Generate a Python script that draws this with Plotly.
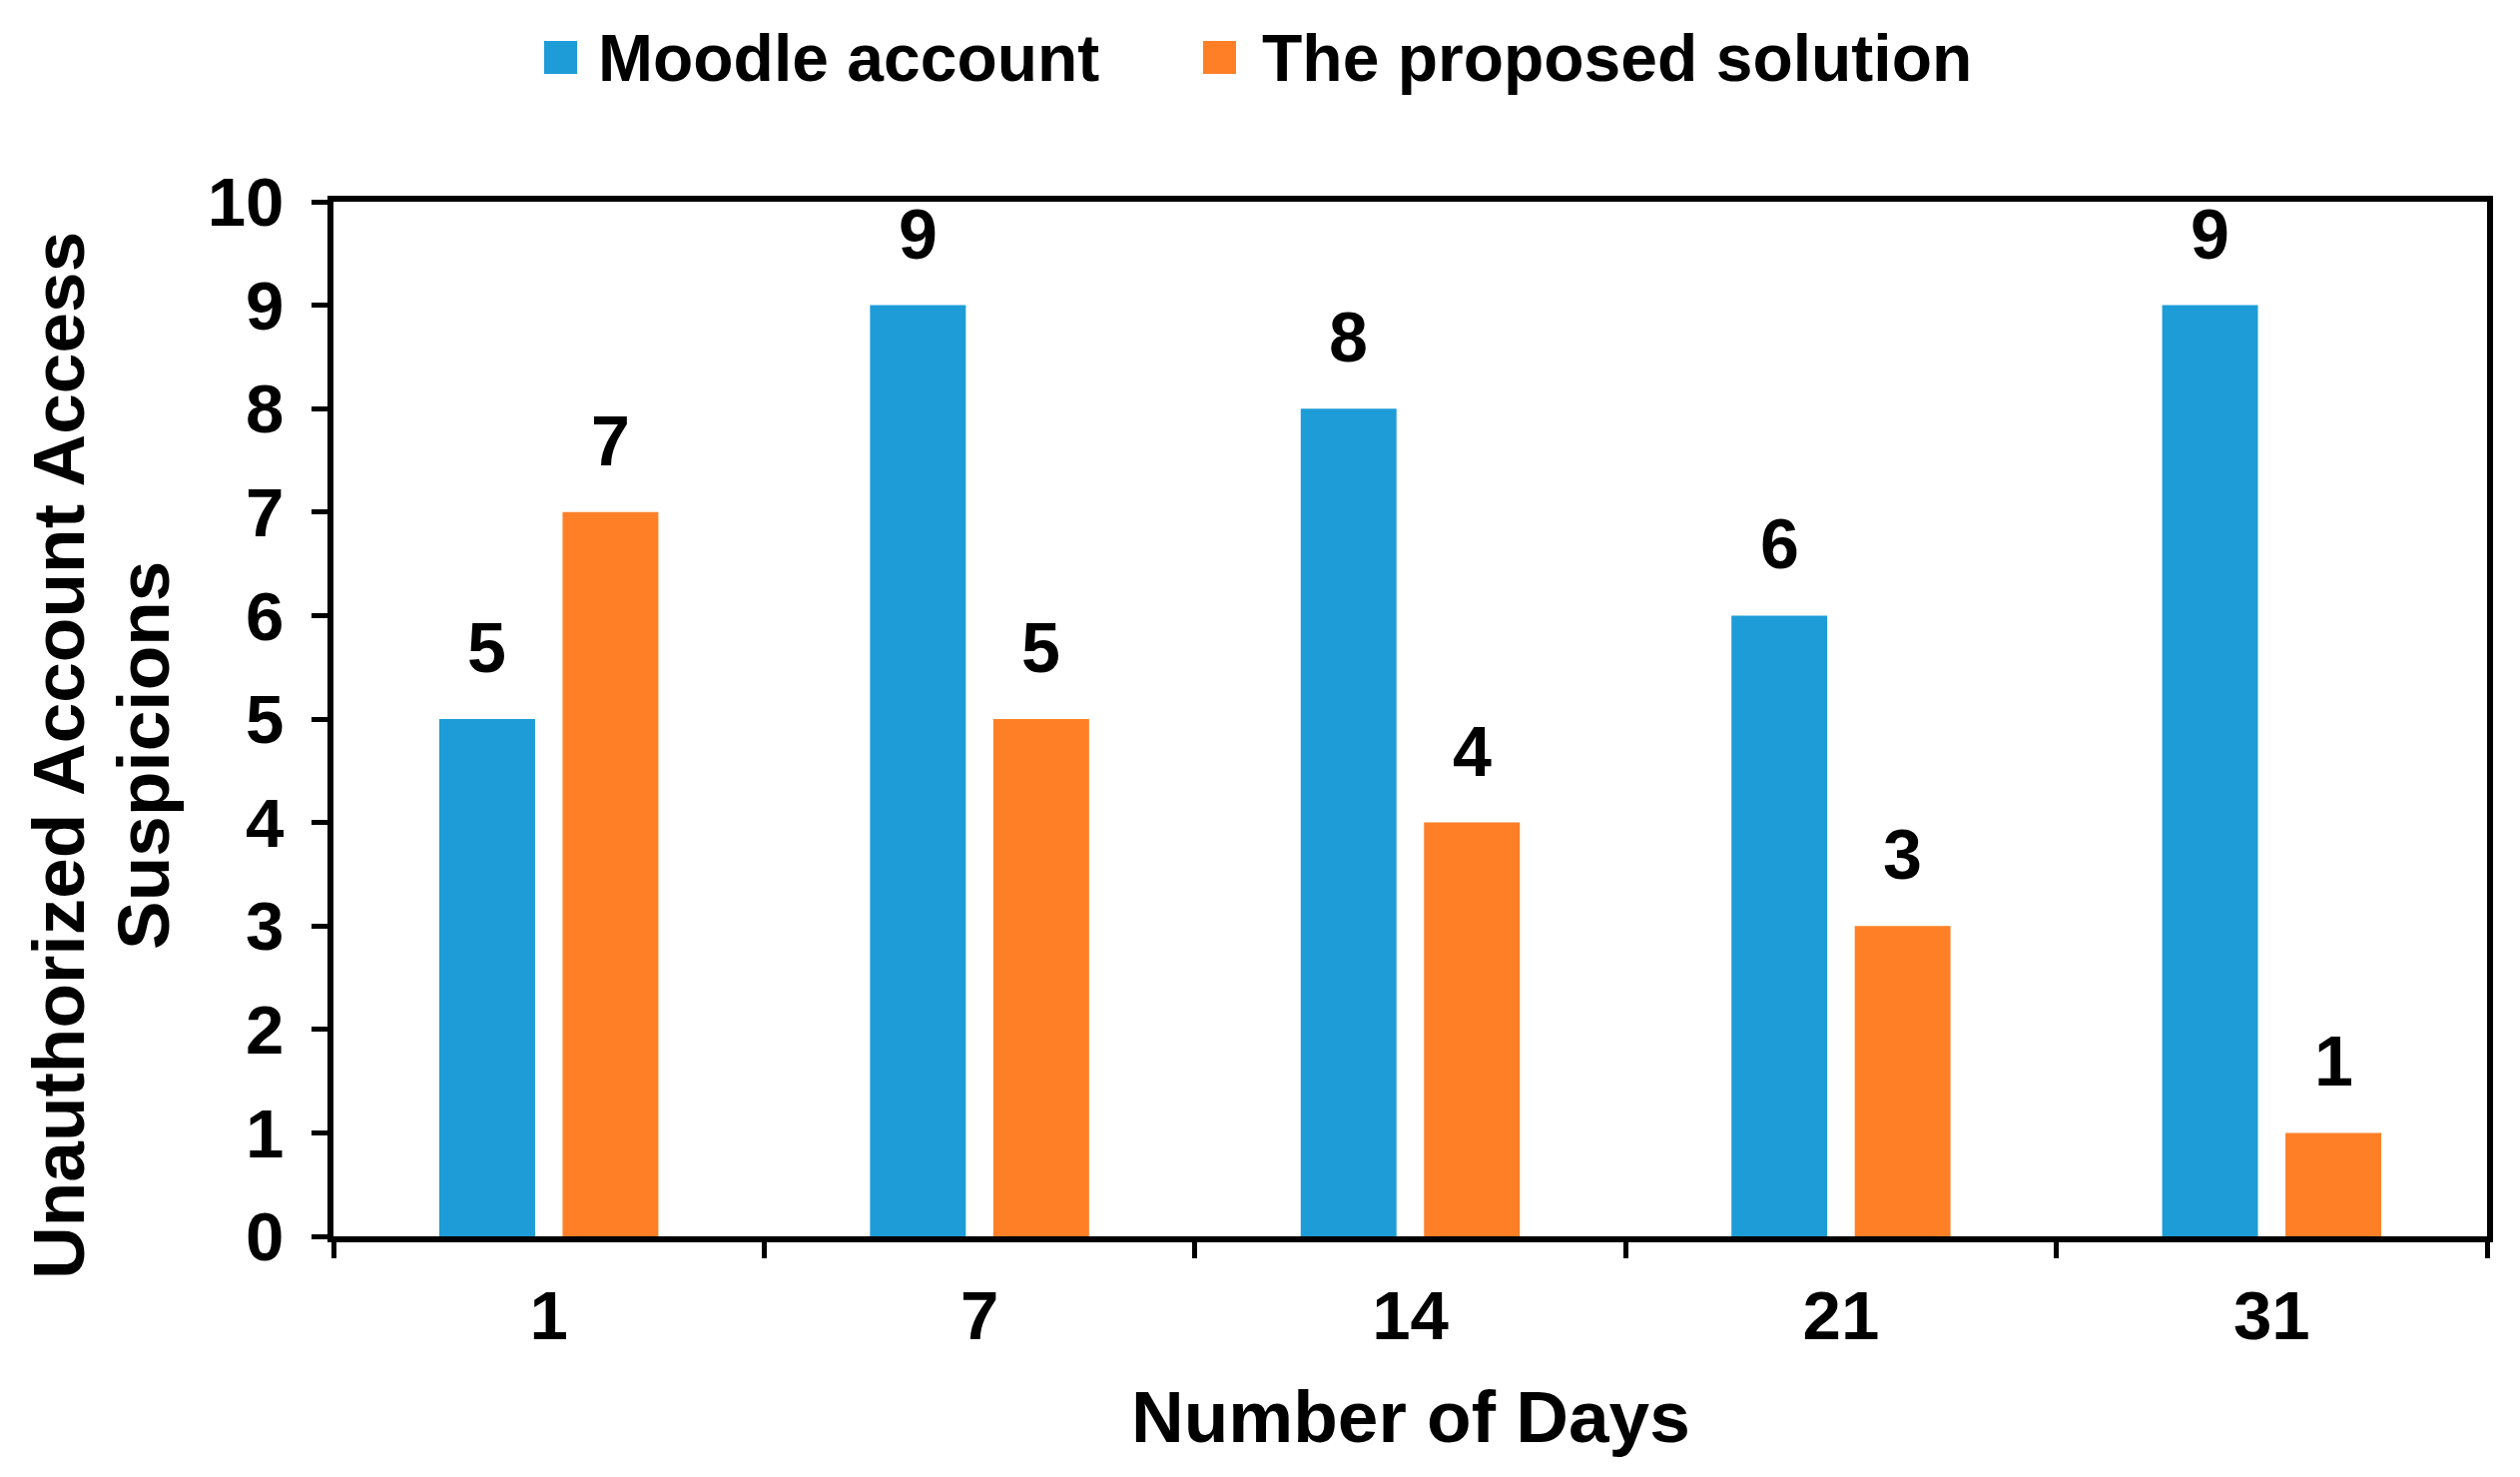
import plotly.graph_objects as go

days = ["1", "7", "14", "21", "31"]
moodle = [5, 9, 8, 6, 9]
proposed = [7, 5, 4, 3, 1]
series_names = ["Moodle account", "The proposed solution"]
colors = ["#1E9CD7", "#FF7F27"]
y_ticks = list(range(0, 11))

W, H = 2524, 1479
ml, mr, mt, mb = 326, 41, 194, 249
plot_w = W - ml - mr
plot_h = H - mt - mb
bargap = 0.4275
groupgap = 0.223

sans = "Liberation Sans, Arial"


def px_x(p):
    return (p - ml) / plot_w


def px_y(p):
    return (H - mb - p) / plot_h


fig = go.Figure()
for name, vals, col in zip(series_names, [moodle, proposed], colors):
    fig.add_trace(go.Bar(x=days, y=vals, name=name, marker_color=col,
                         marker_line_width=0, showlegend=False))

# value labels above bars (x given as category index)
slot = plot_w / len(days) * (1 - bargap) / 2
for i, vals in enumerate([moodle, proposed]):
    shift = (i - 0.5) * slot
    for j, v in enumerate(vals):
        fig.add_annotation(x=j, y=v, text=f"<b>{v}</b>", showarrow=False,
                           xshift=shift, yshift=30, yanchor="bottom",
                           font=dict(family=sans, size=70, color="black"))

# legend drawn at top
legend_items = [(537, 589), (1197, 1254)]
for (sx, tx), name, col in zip(legend_items, series_names, colors):
    fig.add_shape(type="rect", xref="paper", yref="paper",
                  x0=px_x(sx), x1=px_x(sx + 33),
                  y0=px_y(66), y1=px_y(33),
                  fillcolor=col, line_width=0)
    fig.add_annotation(xref="paper", yref="paper", x=px_x(tx), y=px_y(50),
                       text=f"<b>{name}</b>", showarrow=False,
                       xanchor="left", yanchor="middle",
                       font=dict(family=sans, size=66, color="black"))

# axis titles
fig.add_annotation(xref="paper", yref="paper", x=0.5, y=px_y(1410),
                   text="<b>Number of Days</b>", showarrow=False,
                   yanchor="middle", font=dict(family=sans, size=73, color="black"))
for txt, px in [("Unauthorized Account Access", 50), ("Suspicions", 135)]:
    fig.add_annotation(xref="paper", yref="paper", x=px_x(px), y=px_y(749),
                       text=f"<b>{txt}</b>",
                       showarrow=False, textangle=-90,
                       xanchor="center", yanchor="middle",
                       font=dict(family=sans, size=73, color="black"))

fig.update_layout(
    width=W, height=H,
    margin=dict(l=ml, r=mr, t=mt, b=mb),
    barmode="group", bargap=bargap, bargroupgap=groupgap,
    plot_bgcolor="white", paper_bgcolor="white",
    font=dict(family=sans, color="black"),
)
fig.update_xaxes(type="category", range=[-0.5, len(days) - 0.5],
                 tickson="boundaries", ticks="outside", tickangle=0,
                 ticklen=16, tickwidth=5, tickcolor="black",
                 showline=True, linecolor="black", linewidth=5.5, mirror=True,
                 showgrid=False, ticklabelstandoff=14,
                 tickfont=dict(family=sans, size=69, color="black", weight="bold"))
fig.update_yaxes(range=[0, 10], tickvals=y_ticks, ticks="outside",
                 ticklen=16, tickwidth=5, tickcolor="black",
                 showline=True, linecolor="black", linewidth=5.5, mirror=True,
                 showgrid=False, zeroline=False, ticklabelstandoff=14,
                 tickfont=dict(family=sans, size=69, color="black", weight="bold"))

fig.write_html("out.html")
